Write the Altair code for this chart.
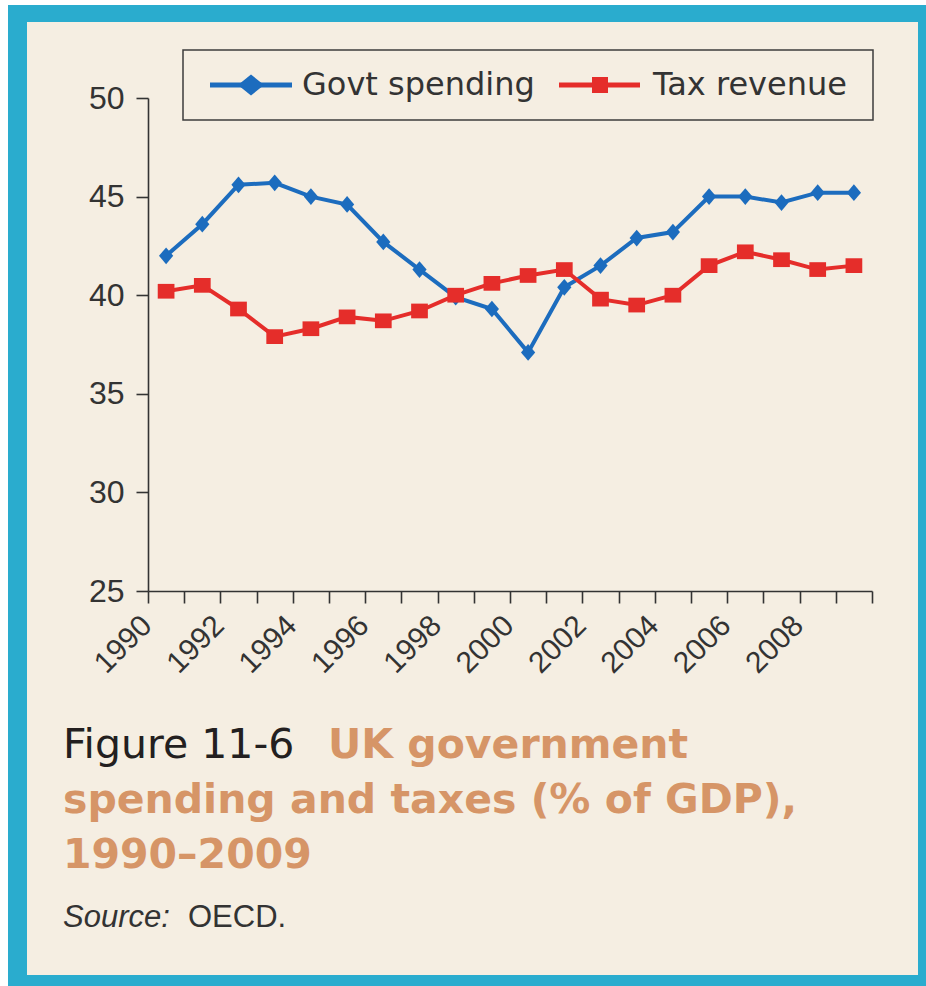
import altair as alt
import pandas as pd

# ---------------- data ----------------
YEARS = list(range(1990, 2010))
GOVT_SPENDING = [42.0, 43.6, 45.6, 45.7, 45.0, 44.6, 42.7, 41.3, 39.9, 39.3,
                 37.1, 40.4, 41.5, 42.9, 43.2, 45.0, 45.0, 44.7, 45.2, 45.2]
TAX_REVENUE = [40.2, 40.5, 39.3, 37.9, 38.3, 38.9, 38.7, 39.2, 40.0, 40.6,
               41.0, 41.3, 39.8, 39.5, 40.0, 41.5, 42.2, 41.8, 41.3, 41.5]
SERIES = ["Govt spending", "Tax revenue"]
Y_TICKS = [25, 30, 35, 40, 45, 50]
X_TICKS = list(range(1990, 2011))

# ---------------- styles ----------------
BLUE = "#1c6cbe"
RED = "#e52d2a"
COLORS = [BLUE, RED]
TEAL = "#2aacce"
CREAM = "#f5eee2"
ORANGE = "#d69567"
INK = "#333333"
DIAMOND = "M-0.85,0L0,-1L0.85,0L0,1Z"
SQUARE = "M-1,-0.88L1,-0.88L1,0.88L-1,0.88Z"
LEG_DIAMOND = "M-1,0L0,-0.8L1,0L0,0.8Z"

df = pd.DataFrame({
    "year": YEARS * 2,
    "series": [SERIES[0]] * len(YEARS) + [SERIES[1]] * len(YEARS),
    "value": GOVT_SPENDING + TAX_REVENUE,
})

axis_common = dict(
    domainColor=INK, domainWidth=1.6, tickColor=INK, tickWidth=1.6,
    tickSize=12, labelFont="Liberation Sans", labelColor=INK,
    title=None, grid=False, zindex=1, labelOverlap=False, labelBound=False,
    labelFlush=False,
)

x_enc = alt.X(
    "mid:Q",
    scale=alt.Scale(domain=[1990, 2010], nice=False, zero=False),
    axis=alt.Axis(
        values=X_TICKS,
        labelExpr="(datum.value % 2 === 0 && datum.value < 2010) ? format(datum.value, 'd') : ''",
        labelAngle=-45, labelAlign="right", labelBaseline="top",
        labelFontSize=30, labelPadding=7, labelOffset=-12, **axis_common,
    ),
)
y_enc = alt.Y(
    "value:Q",
    scale=alt.Scale(domain=[25, 50], nice=False, zero=False),
    axis=alt.Axis(values=Y_TICKS, labelFontSize=32, labelPadding=12, format="d",
                  **axis_common),
)
color_enc = alt.Color("series:N", scale=alt.Scale(domain=SERIES, range=COLORS), legend=None)

base = alt.Chart(df).transform_calculate(mid="datum.year + 0.5")

lines = base.mark_line(strokeWidth=4).encode(x=x_enc, y=y_enc, color=color_enc)
points = base.mark_point(filled=True, opacity=1, size=280, strokeWidth=0).encode(
    x=x_enc, y=y_enc, color=color_enc,
    shape=alt.Shape("series:N", scale=alt.Scale(domain=SERIES, range=[DIAMOND, SQUARE]), legend=None),
)

one = pd.DataFrame({"k": [0]})


def deco():
    return alt.Chart(one)


def rect(x, x2, y, y2, **kw):
    return deco().mark_rect(**kw).encode(
        x=alt.value(x), x2=alt.value(x2), y=alt.value(y), y2=alt.value(y2))


def text(t, x, y, **kw):
    return deco().mark_text(text=t, align="left", baseline="alphabetic", **kw).encode(
        x=alt.value(x), y=alt.value(y))


# frame
teal = rect(-140, 820, -93, 930, color=TEAL)
cream = rect(-121, 770, -76, 877, color=CREAM)

# legend
leg_box = rect(35, 725, -48, 22, fill=CREAM, stroke="#3c3c3c", strokeWidth=1.5)
leg_l1 = deco().mark_rule(color=BLUE, strokeWidth=5).encode(
    x=alt.value(62), x2=alt.value(144), y=alt.value(-13))
leg_p1 = deco().mark_point(shape=LEG_DIAMOND, filled=True, opacity=1, size=676,
                           color=BLUE, strokeWidth=0).encode(x=alt.value(103), y=alt.value(-13))
leg_t1 = text(SERIES[0], 154, -3, font="DejaVu Sans", fontSize=32, color=INK)
leg_l2 = deco().mark_rule(color=RED, strokeWidth=5).encode(
    x=alt.value(411), x2=alt.value(492), y=alt.value(-13))
leg_p2 = deco().mark_point(shape="square", filled=True, opacity=1, size=256,
                           color=RED, strokeWidth=0).encode(x=alt.value(452), y=alt.value(-13))
leg_t2 = text(SERIES[1], 505, -3, font="DejaVu Sans", fontSize=32, color=INK)

# caption
t_fig = text("Figure 11-6", -85, 660, font="DejaVu Sans", fontSize=41, color="#231f20")
t_uk = text("UK government", 180, 660, font="DejaVu Sans", fontSize=41,
            fontWeight="bold", color=ORANGE)
t_l2 = text("spending and taxes (% of GDP),", -85, 715, font="DejaVu Sans",
            fontSize=41, fontWeight="bold", color=ORANGE)
t_l3 = text("1990–2009", -85, 770, font="DejaVu Sans", fontSize=41,
            fontWeight="bold", color=ORANGE)
t_src = text("Source:", -85, 829, font="Liberation Sans", fontSize=31,
             fontStyle="italic", color=INK)
t_oecd = text("OECD.", 40, 829, font="Liberation Sans", fontSize=31, color=INK)

chart = alt.layer(
    teal, cream, leg_box, leg_l1, leg_p1, leg_t1, leg_l2, leg_p2, leg_t2,
    lines, points,
    t_fig, t_uk, t_l2, t_l3, t_src, t_oecd,
).properties(
    width=724, height=493,
    padding={"left": 148, "top": 98, "right": 54, "bottom": 395},
    autosize=alt.AutoSizeParams(type="none"),
).configure(background="white").configure_view(stroke=None)

chart.save("out.html", embed_options={"renderer": "svg", "actions": False})
